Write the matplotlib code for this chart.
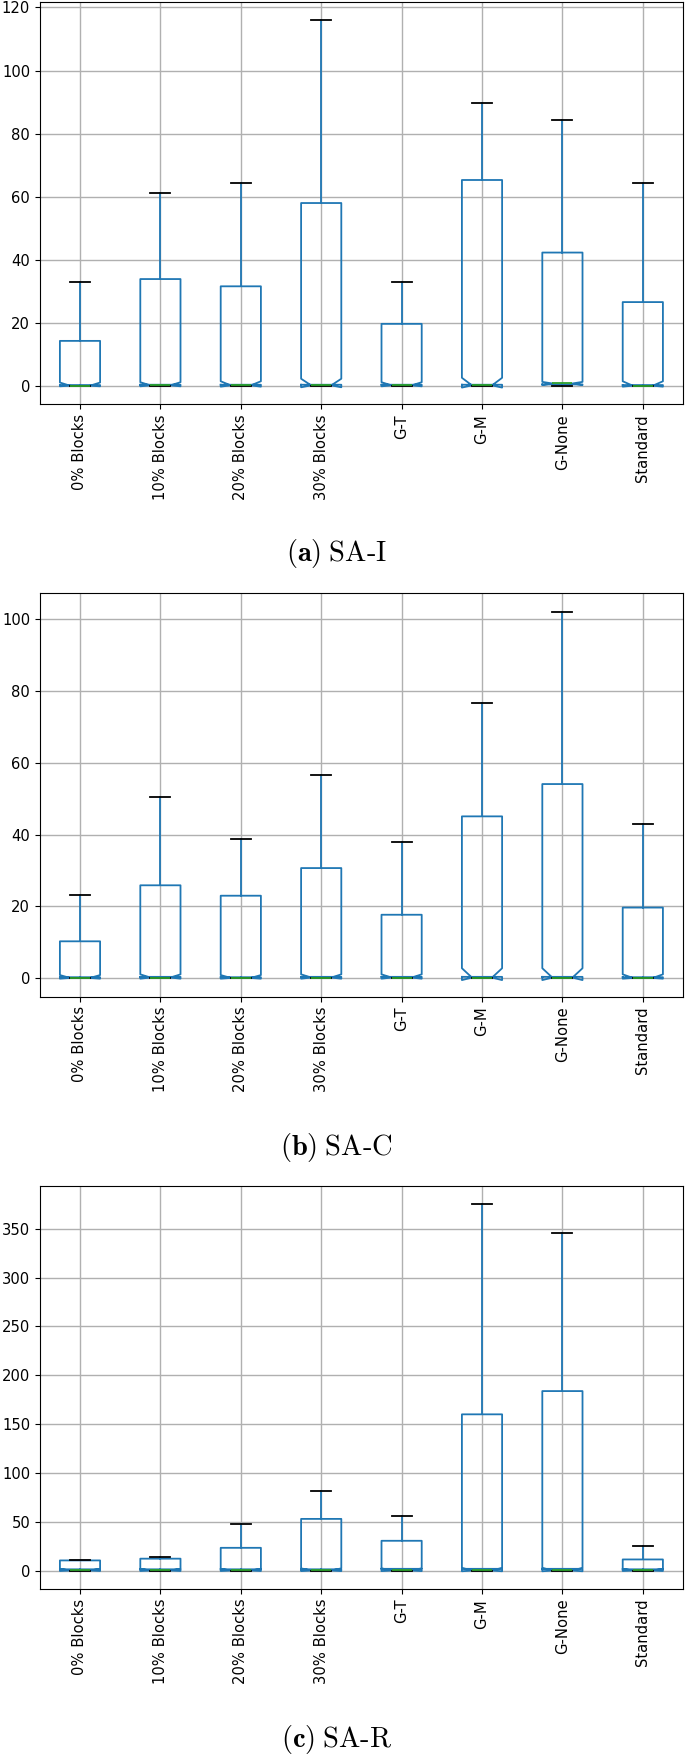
import matplotlib
matplotlib.use("Agg")
import matplotlib.pyplot as plt

plt.rcParams['mathtext.fontset'] = 'cm'

## categories ##
labels = ['0% Blocks', '10% Blocks', '20% Blocks', '30% Blocks',
          'G-T', 'G-M', 'G-None', 'Standard']

## (a) SA-I ##
q1_a = [0.3, 0.4, 0.4, 0.4, 0.4, 0.4, 0.5, 0.3]
med_a = [0.1, 0.2, 0.2, 0.2, 0.2, 0.2, 0.8, 0.1]
q3_a = [14.3, 33.9, 31.6, 58.0, 19.7, 65.3, 42.3, 26.6]
whislo_a = [0, 0, 0, 0, 0, 0, 0, 0]
whishi_a = [33.0, 61.3, 64.2, 116.0, 32.9, 89.7, 84.4, 64.2]
cihi_a = [1.1, 1.2, 1.5, 2.3, 1.2, 2.6, 1.3, 1.5]
cilo_a = [-0.1, -0.1, -0.2, -0.4, -0.1, -0.5, 0.3, -0.2]

## (b) SA-C ##
q1_b = [0.3, 0.4, 0.3, 0.4, 0.4, 0.4, 0.4, 0.3]
med_b = [0.1, 0.2, 0.1, 0.2, 0.2, 0.2, 0.2, 0.1]
q3_b = [10.3, 25.9, 23.0, 30.7, 17.7, 45.1, 54.1, 19.7]
whislo_b = [0, 0, 0, 0, 0, 0, 0, 0]
whishi_b = [23.3, 50.6, 38.9, 56.7, 37.9, 76.8, 102.1, 42.9]
cihi_b = [0.9, 1.1, 0.9, 1.1, 1.1, 2.8, 2.8, 1.1]
cilo_b = [-0.1, -0.1, -0.1, -0.1, -0.1, -0.5, -0.5, -0.1]

## (c) SA-R ##
q1_c = [1.5, 1.5, 1.5, 1.5, 2.0, 2.0, 2.0, 1.5]
med_c = [0.3, 0.3, 0.3, 0.3, 0.3, 0.3, 0.3, 0.3]
q3_c = [10.6, 12.4, 23.5, 53.1, 30.7, 160.1, 183.9, 11.6]
whislo_c = [0, 0, 0, 0, 0, 0, 0, 0]
whishi_c = [11.2, 13.6, 48.0, 81.4, 56.2, 375.3, 345.7, 25.5]
cihi_c = [2.0, 2.0, 2.0, 2.5, 2.5, 3.0, 3.0, 2.0]
cilo_c = [-0.2, -0.2, -0.2, -0.3, -0.3, -0.5, -0.5, -0.2]

captions = [r'$\mathbf{(a)}\;\text{SA-I}$',
            r'$\mathbf{(b)}\;\text{SA-C}$',
            r'$\mathbf{(c)}\;\text{SA-R}$']

panels = [
    (q1_a, med_a, q3_a, whislo_a, whishi_a, cilo_a, cihi_a),
    (q1_b, med_b, q3_b, whislo_b, whishi_b, cilo_b, cihi_b),
    (q1_c, med_c, q3_c, whislo_c, whishi_c, cilo_c, cihi_c),
]

## axes boxes in figure fractions ##
axes_rects = [
    [0.0581, 0.7695, 0.9390, 0.2295],
    [0.0581, 0.4318, 0.9390, 0.2299],
    [0.0581, 0.0940, 0.9390, 0.2300],
]
caption_y = [0.6847, 0.346, 0.0085]

fig = plt.figure(figsize=(6.85, 17.54), dpi=100)

for rect, data, cap, cy in zip(axes_rects, panels, captions, caption_y):
    q1, med, q3, wlo, whi, clo, chi = data
    stats = []
    for i in range(len(labels)):
        stats.append({'label': labels[i], 'q1': q1[i], 'med': med[i], 'q3': q3[i],
                      'whislo': wlo[i], 'whishi': whi[i],
                      'cilo': clo[i], 'cihi': chi[i], 'fliers': []})
    ax = fig.add_axes(rect)
    ax.bxp(stats, shownotches=True, showfliers=False, widths=0.5,
           boxprops=dict(color='#1f77b4', linewidth=1.3),
           whiskerprops=dict(color='#1f77b4', linewidth=1.3),
           medianprops=dict(color='#2ca02c', linewidth=1.3),
           capprops=dict(color='k', linewidth=1.3))
    top = max(whi)
    ax.set_ylim(-0.05 * top, 1.05 * top)
    ax.set_xlim(0.5, len(labels) + 0.5)
    ax.grid(True, linewidth=1.0)
    ax.set_axisbelow(True)
    ax.tick_params(axis='x', labelrotation=90)
    ax.tick_params(labelsize=10.6)
    fig.text(0.491, cy, cap, ha='center', va='center', fontsize=20.5)

fig.savefig('out.png', dpi=100)
